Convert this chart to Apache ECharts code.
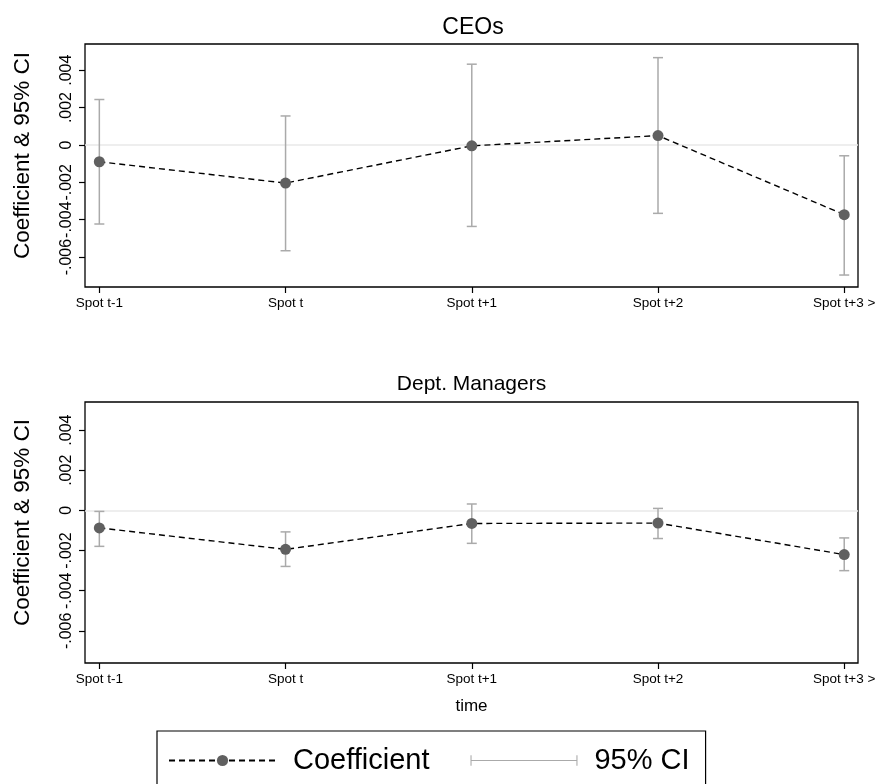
<!DOCTYPE html>
<html>
<head>
<meta charset="utf-8">
<script src="https://cdn.jsdelivr.net/npm/echarts@6/dist/echarts.min.js"></script>
<style>
  html, body { margin: 0; padding: 0; background: #fff; }
  #chart { width: 887px; height: 784px; }
</style>
</head>
<body>
<div id="chart"></div>
<script>
// Event-time positions and labels
const categories = ['Spot t-1', 'Spot t', 'Spot t+1', 'Spot t+2', 'Spot t+3 >'];
const yTicks = [-0.006, -0.004, -0.002, 0, 0.002, 0.004];

// CEOs: point estimates and 95% confidence bounds
const ceoCoef = [-0.0009, -0.00204, -0.00005, 0.0005, -0.00373];
const ceoLow  = [-0.00423, -0.00566, -0.00436, -0.00366, -0.00696];
const ceoHigh = [0.00243, 0.00155, 0.00432, 0.00467, -0.00058];

// Department managers: point estimates and 95% confidence bounds
const mgrCoef = [-0.00087, -0.00194, -0.00065, -0.00063, -0.0022];
const mgrLow  = [-0.00179, -0.00279, -0.00164, -0.0014, -0.003];
const mgrHigh = [-0.00005, -0.00107, 0.00032, 0.0001, -0.00137];

const FONT = 'Liberation Sans, Arial, Helvetica, sans-serif';
const CI_COLOR = '#aaaaaa';
const DOT_COLOR = '#606060';
const xIdx = categories.map((c, i) => i);

function fmtTick(v) {
  if (Math.abs(v) < 1e-12) return '0';
  const s = Math.abs(v).toFixed(3).replace(/^0/, '');
  return (v < 0 ? '-' : '') + s;
}

function makeXAxis(gridIndex, withName) {
  return {
    type: 'value', gridIndex,
    min: -0.077, max: 4.074,
    axisLine: { show: false, onZero: false },
    splitLine: { show: false },
    axisTick: { show: true, customValues: xIdx, length: 6, lineStyle: { color: '#000', width: 1.2 } },
    axisLabel: {
      customValues: xIdx, margin: 9,
      formatter: v => categories[Math.round(v)],
      fontFamily: FONT, fontSize: 13.5, color: '#000'
    },
    name: withName ? 'time' : '',
    nameLocation: 'middle', nameGap: 35,
    nameTextStyle: { fontFamily: FONT, fontSize: 17, color: '#000' }
  };
}

function makeYAxis(gridIndex) {
  return {
    type: 'value', gridIndex,
    min: -0.0076, max: 0.0054,
    axisLine: { show: false, onZero: false },
    splitLine: { show: false },
    axisTick: { show: true, customValues: yTicks, length: 6, lineStyle: { color: '#000', width: 1.2 } },
    axisLabel: {
      customValues: yTicks, rotate: 90, margin: 10,
      formatter: fmtTick,
      fontFamily: FONT, fontSize: 16, color: '#000'
    },
    name: 'Coefficient & 95% CI',
    nameLocation: 'middle', nameRotate: 90, nameGap: 51,
    nameTextStyle: { fontFamily: FONT, fontSize: 22.5, color: '#000', padding: [0, 0, 0, 20] }
  };
}

function errorBars(gridIndex, low, high) {
  return {
    name: '95% CI', type: 'custom',
    xAxisIndex: gridIndex, yAxisIndex: gridIndex,
    itemStyle: { color: CI_COLOR },
    encode: { x: 0, y: [1, 2] },
    data: xIdx.map(i => [i, low[i], high[i]]),
    renderItem: function (params, api) {
      const x = api.value(0);
      const lo = api.coord([x, api.value(1)]);
      const hi = api.coord([x, api.value(2)]);
      const half = 5;
      const st = { stroke: CI_COLOR, lineWidth: 1.5 };
      return {
        type: 'group',
        children: [
          { type: 'line', shape: { x1: lo[0], y1: lo[1], x2: hi[0], y2: hi[1] }, style: st },
          { type: 'line', shape: { x1: lo[0] - half, y1: lo[1], x2: lo[0] + half, y2: lo[1] }, style: st },
          { type: 'line', shape: { x1: hi[0] - half, y1: hi[1], x2: hi[0] + half, y2: hi[1] }, style: st }
        ]
      };
    },
    markLine: {
      silent: true, symbol: ['none', 'none'],
      label: { show: false },
      lineStyle: { color: '#e8e8e8', width: 1.5, type: 'solid' },
      data: [{ yAxis: 0 }],
      z: 1
    },
    z: 2
  };
}

function coefLine(gridIndex, coef) {
  return {
    name: 'Coefficient', type: 'line',
    xAxisIndex: gridIndex, yAxisIndex: gridIndex,
    data: xIdx.map(i => [i, coef[i]]),
    symbol: 'circle', symbolSize: 11,
    itemStyle: { color: DOT_COLOR },
    lineStyle: { color: '#000', width: 1.4, type: [6, 4] },
    z: 3
  };
}

const chart = echarts.init(document.getElementById('chart'), null, { renderer: 'canvas' });

chart.setOption({
  animation: false,
  backgroundColor: '#fff',
  grid: [
    { left: 85, top: 44, width: 773, height: 243, show: true, borderColor: '#000', borderWidth: 1.3, backgroundColor: 'transparent' },
    { left: 85, top: 402, width: 773, height: 261, show: true, borderColor: '#000', borderWidth: 1.3, backgroundColor: 'transparent' }
  ],
  xAxis: [makeXAxis(0, false), makeXAxis(1, true)],
  yAxis: [makeYAxis(0), makeYAxis(1)],
  graphic: [
    { type: 'text', x: 473, y: 28, style: { text: 'CEOs', font: '23px ' + FONT, fill: '#000', textAlign: 'center', textVerticalAlign: 'middle' } },
    { type: 'text', x: 471.5, y: 384, style: { text: 'Dept. Managers', font: '21px ' + FONT, fill: '#000', textAlign: 'center', textVerticalAlign: 'middle' } }
  ],
  legend: {
    left: 157, top: 731,
    padding: [15, 16, 30, 11],
    borderColor: '#000', borderWidth: 1.2,
    itemWidth: 107, itemHeight: 14, itemGap: 41,
    textStyle: { fontFamily: FONT, fontSize: 29, color: '#000', padding: [0, 0, 0, 12] },
    data: [
      { name: 'Coefficient' },
      { name: '95% CI', icon: 'path://M0,2h1v10h-1z M0,6.5h100v1h-100z M99,2h1v10h-1z' }
    ]
  },
  series: [
    errorBars(0, ceoLow, ceoHigh),
    coefLine(0, ceoCoef),
    errorBars(1, mgrLow, mgrHigh),
    coefLine(1, mgrCoef)
  ]
});
</script>
</body>
</html>
